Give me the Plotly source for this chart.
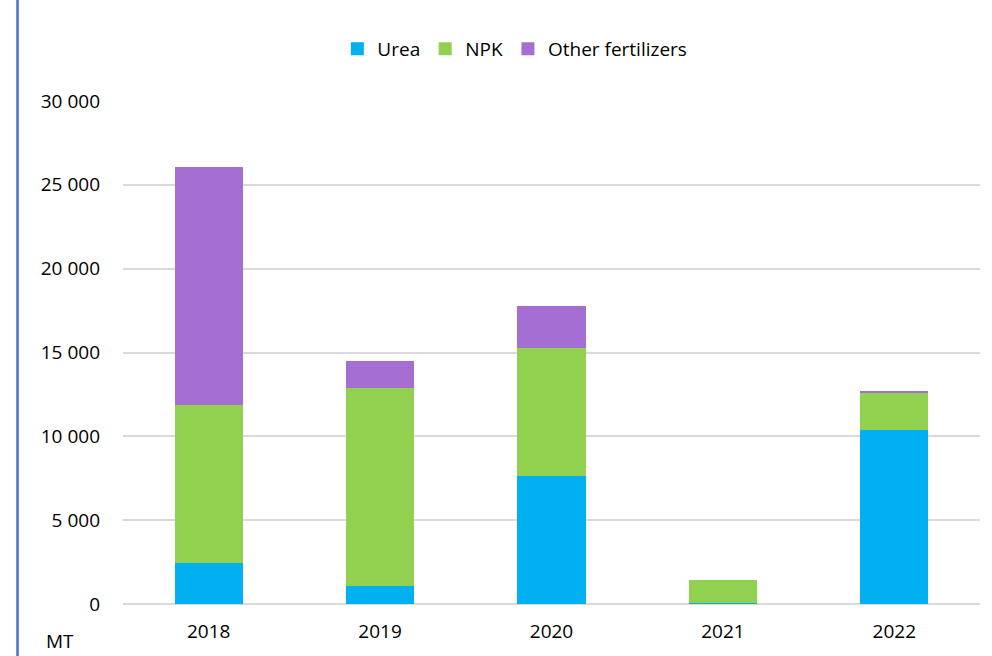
import plotly.graph_objects as go

years = ["2018", "2019", "2020", "2021", "2022"]
urea = [2440, 1070, 7640, 40, 10380]
npk = [9410, 11840, 7610, 1420, 2205]
other = [14210, 1590, 2550, 0, 60]
y_ticks = [0, 5000, 10000, 15000, 20000, 25000, 30000]
y_tick_text = ["0", "5 000", "10 000", "15 000", "20 000", "25 000", "30 000"]

FONT = "Open Sans"
series = [("Urea", urea, "#00B0F0"), ("NPK", npk, "#92D050"),
          ("Other fertilizers", other, "#A56ED3")]
fig = go.Figure()
for name, vals, col in series:
    fig.add_trace(go.Bar(x=years, y=vals, name=name, showlegend=False,
                         marker=dict(color=col, line=dict(width=0))))
for name, vals, col in series:
    fig.add_trace(go.Scatter(x=[None], y=[None], mode="markers", name=name,
                             marker=dict(symbol="square", size=13, color=col)))

fig.update_layout(
    barmode="stack",
    bargap=0.603,
    width=992, height=656,
    margin=dict(l=123, r=12, t=101, b=52),
    plot_bgcolor="white", paper_bgcolor="white",
    font=dict(family=FONT, size=19, color="#000000"),
    legend=dict(orientation="h", x=0.519, xanchor="center", xref="container",
                y=1 - 49 / 656, yref="container", yanchor="middle",
                font=dict(size=19), traceorder="normal", itemwidth=30),
    showlegend=True,
)
fig.update_xaxes(showgrid=False, showline=False, ticks="", tickfont=dict(size=19),
                 ticklabelstandoff=14)
fig.update_yaxes(range=[0, 30000], tickvals=y_ticks, ticktext=y_tick_text,
                 showgrid=True, gridcolor="#D9D9D9", gridwidth=2,
                 zeroline=True, zerolinecolor="#D9D9D9", zerolinewidth=2,
                 showline=False, ticks="", tickfont=dict(size=19), ticklabelstandoff=22)
fig.add_annotation(text="MT", xref="paper", yref="paper", x=(60 - 123) / 857,
                   y=-(640 - 603.5) / 502.5, xanchor="center", yanchor="middle",
                   showarrow=False, font=dict(size=19, family=FONT))
fig.add_shape(type="line", xref="paper", yref="paper",
              x0=(17.5 - 123) / 857, x1=(17.5 - 123) / 857,
              y0=-0.2, y1=1.3, line=dict(color="#4472C4", width=2.5))
fig.write_html("out.html", config={"displayModeBar": False},
               post_script="document.body.style.margin='0px';")
